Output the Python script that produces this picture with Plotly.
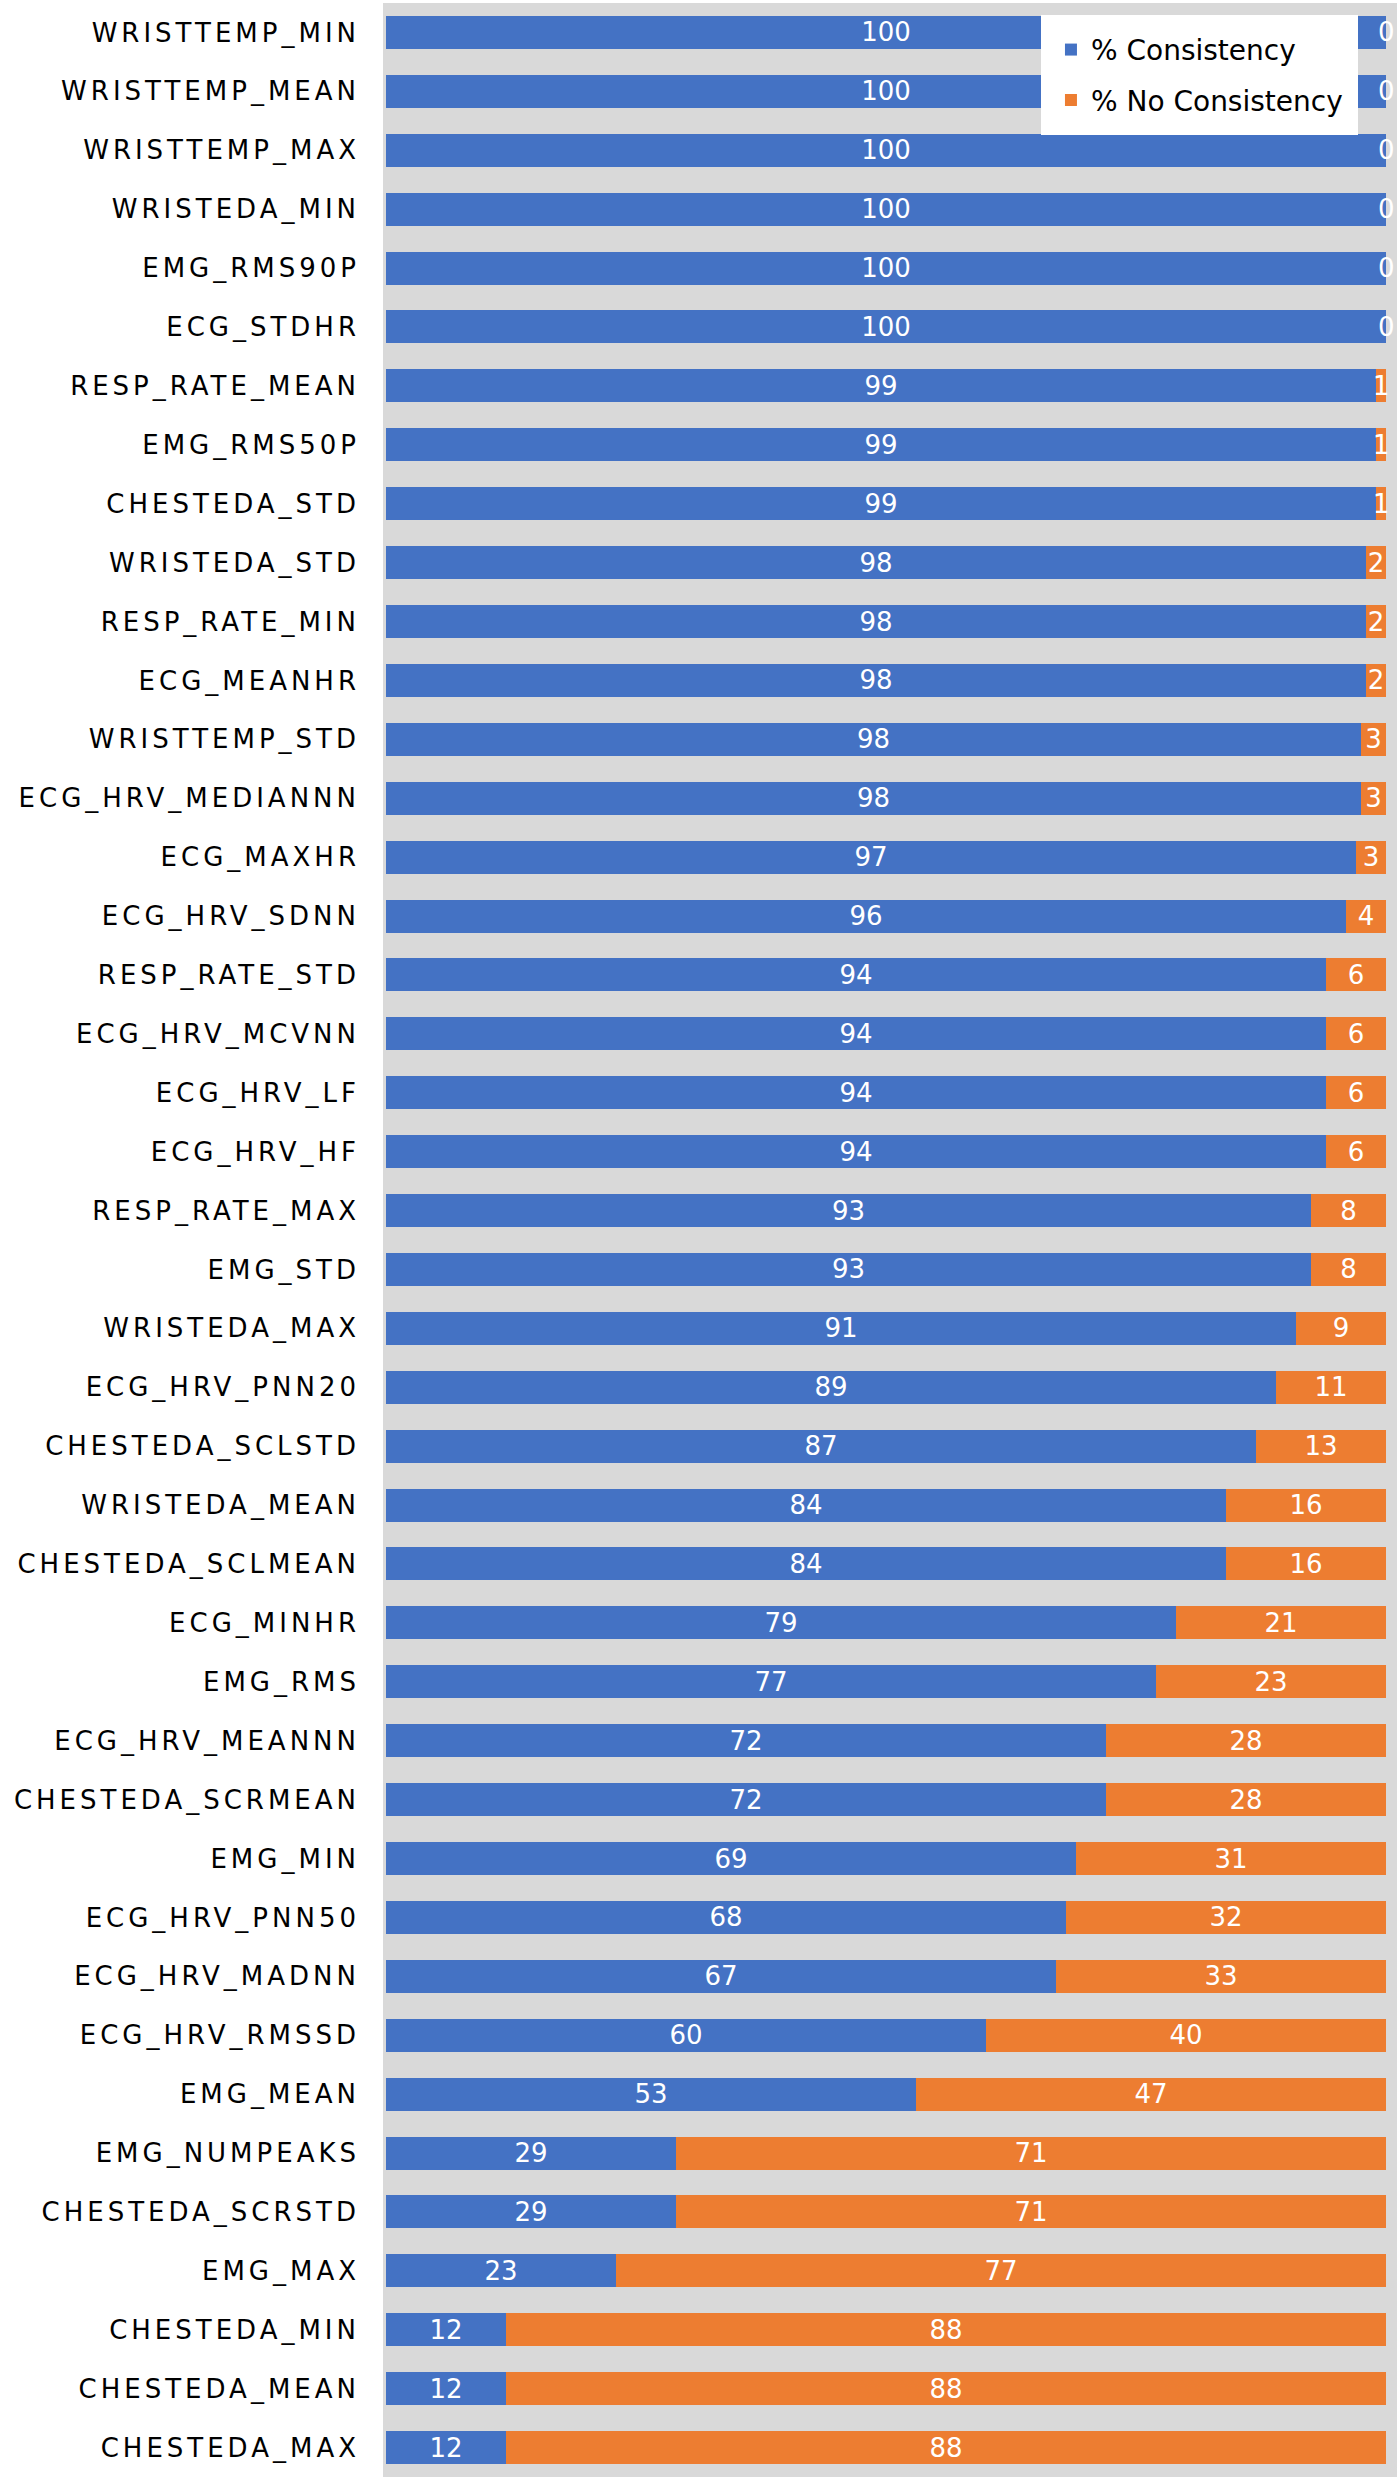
import plotly.graph_objects as go

categories = [
    "WRISTTEMP_MIN", "WRISTTEMP_MEAN", "WRISTTEMP_MAX", "WRISTEDA_MIN", "EMG_RMS90P",
    "ECG_STDHR", "RESP_RATE_MEAN", "EMG_RMS50P", "CHESTEDA_STD", "WRISTEDA_STD",
    "RESP_RATE_MIN", "ECG_MEANHR", "WRISTTEMP_STD", "ECG_HRV_MEDIANNN", "ECG_MAXHR",
    "ECG_HRV_SDNN", "RESP_RATE_STD", "ECG_HRV_MCVNN", "ECG_HRV_LF", "ECG_HRV_HF",
    "RESP_RATE_MAX", "EMG_STD", "WRISTEDA_MAX", "ECG_HRV_PNN20", "CHESTEDA_SCLSTD",
    "WRISTEDA_MEAN", "CHESTEDA_SCLMEAN", "ECG_MINHR", "EMG_RMS", "ECG_HRV_MEANNN",
    "CHESTEDA_SCRMEAN", "EMG_MIN", "ECG_HRV_PNN50", "ECG_HRV_MADNN", "ECG_HRV_RMSSD",
    "EMG_MEAN", "EMG_NUMPEAKS", "CHESTEDA_SCRSTD", "EMG_MAX", "CHESTEDA_MIN",
    "CHESTEDA_MEAN", "CHESTEDA_MAX",
]

consistency = [
    100, 100, 100, 100, 100,
    100, 99, 99, 99, 98,
    98, 98, 97.5, 97.5, 97,
    96, 94, 94, 94, 94,
    92.5, 92.5, 91, 89, 87,
    84, 84, 79, 77, 72,
    72, 69, 68, 67, 60,
    53, 29, 29, 23, 12,
    12, 12,
]

no_consistency = [
    0, 0, 0, 0, 0,
    0, 1, 1, 1, 2,
    2, 2, 2.5, 2.5, 3,
    4, 6, 6, 6, 6,
    7.5, 7.5, 9, 11, 13,
    16, 16, 21, 23, 28,
    28, 31, 32, 33, 40,
    47, 71, 71, 77, 88,
    88, 88,
]

BLUE = "#4472C4"
ORANGE = "#ED7D31"
FONT = "DejaVu Sans"
LABEL_SIZE = 26

fig = go.Figure()
fig.add_trace(go.Bar(
    y=categories, x=consistency, orientation="h", name="% Consistency",
    marker=dict(color=BLUE, line=dict(width=0)),
    texttemplate="%{x:.0f}", textposition="inside", insidetextanchor="middle",
    textangle=0,
    textfont=dict(color="white", size=LABEL_SIZE, family=FONT),
    legendgroup="a",
))
fig.add_trace(go.Bar(
    y=categories, x=no_consistency, orientation="h", name="% No Consistency",
    marker=dict(color=ORANGE, line=dict(width=0)),
    texttemplate="%{x:.0f}", textposition="inside", insidetextanchor="middle",
    textangle=0,
    textfont=dict(color="white", size=LABEL_SIZE, family=FONT),
    legendgroup="b",
))

# zero-width segments get no inside text in plotly; label them at the bar end
for cat, c, n in zip(categories, consistency, no_consistency):
    if n == 0:
        fig.add_annotation(
            x=c + n, y=cat, xref="x", yref="y", text=f"{n:.0f}",
            showarrow=False, xanchor="center", yanchor="middle",
            font=dict(color="white", size=LABEL_SIZE, family=FONT),
        )

fig.update_layout(
    width=1398, height=2480,
    barmode="stack", bargap=0.44,
    margin=dict(l=383, r=1, t=3, b=3, autoexpand=False),
    paper_bgcolor="white", plot_bgcolor="#D9D9D9",
    font=dict(family=FONT, size=26, color="black"),
    uniformtext=dict(minsize=LABEL_SIZE, mode="show"),
    legend=dict(
        x=0.9615, xanchor="right", y=0.9952, yanchor="top",
        bgcolor="white", bordercolor="white", borderwidth=10,
        font=dict(family=FONT, size=28, color="black"),
        tracegroupgap=11,
    ),
    showlegend=True,
)
fig.update_xaxes(range=[-0.3, 101.1], showgrid=False, zeroline=False,
                 showticklabels=False, ticks="", automargin=False)
fig.update_yaxes(autorange="reversed", showgrid=False, zeroline=False,
                 ticks="", ticklabelstandoff=22, automargin=False,
                 tickfont=dict(family=FONT, size=26, color="black"))

post = """
document.body.style.margin = '0';
document.body.style.padding = '0';
var gd = document.getElementById('{plot_id}');
function spaceTicks(){
  document.querySelectorAll('.ytick text').forEach(function(t){ t.style.letterSpacing='4px'; });
}
spaceTicks();
if (gd && gd.on) { gd.on('plotly_afterplot', spaceTicks); }
"""

fig.write_html("out.html", post_script=post, config={"displayModeBar": False})
